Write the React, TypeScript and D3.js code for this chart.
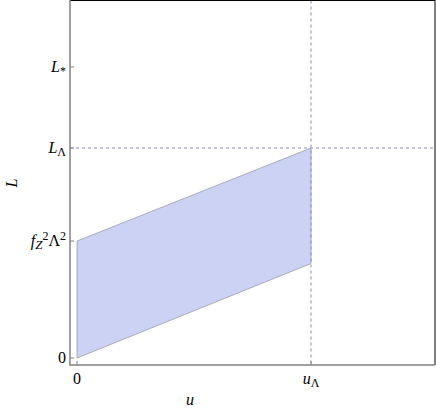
import React from "react";
import * as d3 from "d3";

// u in units of u_Lambda, L in units of L_Lambda
const REGION_U = [0, 0, 1, 1];
const REGION_L = [0, 0.557, 1, 0.45];
const U_LAMBDA = 1;
const L_LAMBDA = 1;
const FZ_LAMBDA = 0.557;
const L_STAR = 1.386;

const WIDTH = 436;
const HEIGHT = 412;

const x = d3.scaleLinear().domain([0, 1]).range([77, 311]);
const y = d3.scaleLinear().domain([0, 1]).range([358, 148]);

const LEFT = 70;
const RIGHT = 435;
const TOP = 0.5;
const BOTTOM = 365;

const font = "'Liberation Serif', 'DejaVu Serif', serif";
const dash = "#8a8ac8";

export default function App() {
	const pts: [number, number][] = REGION_U.map((u, i) => [x(u), y(REGION_L[i])]);
	const area = d3.line()(pts) + "Z";

	const yTicks = [0, FZ_LAMBDA, L_LAMBDA, L_STAR];
	const xTicks = [0, U_LAMBDA];

	return (
		<svg
			width={WIDTH}
			height={HEIGHT}
			style={{ position: "absolute", left: 0, top: 0 }}
			fontFamily={font}>
			<path d={area} fill="#ccd2f4" stroke="#9a9aaa" strokeWidth={0.8} strokeLinejoin="round" />
			<line x1={LEFT} x2={RIGHT} y1={y(L_LAMBDA)} y2={y(L_LAMBDA)} stroke={dash} strokeDasharray="3,3" />
			<line x1={x(U_LAMBDA)} x2={x(U_LAMBDA)} y1={TOP} y2={BOTTOM} stroke={dash} strokeDasharray="3,3" />

			<line x1={LEFT} x2={RIGHT} y1={TOP} y2={TOP} stroke="#000" />
			<line x1={RIGHT} x2={RIGHT} y1={0} y2={BOTTOM} stroke="#000" />
			<line x1={LEFT} x2={LEFT} y1={0} y2={BOTTOM + 0.75} stroke="#808080" strokeWidth={1.5} />
			<line x1={LEFT} x2={RIGHT} y1={BOTTOM} y2={BOTTOM} stroke="#808080" strokeWidth={1.5} />

			{yTicks.map((t, i) => (
				<line key={"yt" + i} x1={LEFT} x2={LEFT + 4} y1={y(t)} y2={y(t)} stroke="#808080" />
			))}
			{xTicks.map((t, i) => (
				<line key={"xt" + i} x1={x(t)} x2={x(t)} y1={BOTTOM} y2={BOTTOM - 4} stroke="#808080" />
			))}

			<g fontSize={16} textAnchor="end">
				<text x={LEFT - 4} y={y(0) + 5}>0</text>
				<text x={LEFT - 4} y={y(FZ_LAMBDA) + 5}>
					<tspan fontStyle="italic">f</tspan>
					<tspan fontStyle="italic" fontSize={13} dy={3}>Z</tspan>
					<tspan fontSize={12} dy={-9}>2</tspan>
					<tspan dy={6}>Λ</tspan>
					<tspan fontSize={12} dy={-6}>2</tspan>
				</text>
				<text x={LEFT - 4} y={y(L_LAMBDA) + 5}>
					<tspan fontStyle="italic">L</tspan>
					<tspan fontSize={12} dy={3}>Λ</tspan>
				</text>
				<text x={LEFT - 4} y={y(L_STAR) + 5}>
					<tspan fontStyle="italic">L</tspan>
					<tspan fontSize={12} dy={3}>*</tspan>
				</text>
			</g>

			<g fontSize={16} textAnchor="middle">
				<text x={x(0)} y={BOTTOM + 19}>0</text>
				<text x={x(U_LAMBDA)} y={BOTTOM + 19}>
					<tspan fontStyle="italic">u</tspan>
					<tspan fontSize={12} dy={3}>Λ</tspan>
				</text>
			</g>

			<text x={190} y={405} fontSize={16} fontStyle="italic" textAnchor="middle">u</text>
			<text
				transform={`translate(17,183) rotate(-90)`}
				fontSize={16}
				fontStyle="italic"
				textAnchor="middle">
				L
			</text>
		</svg>
	);
}
